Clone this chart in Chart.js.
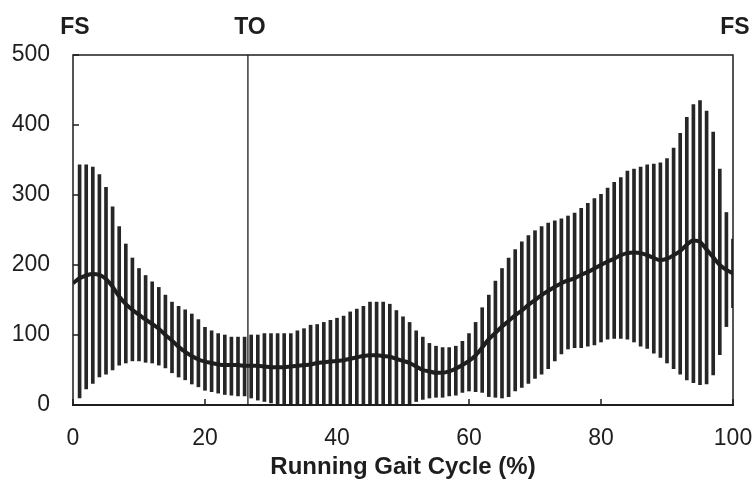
<!DOCTYPE html>
<html>
<head>
<meta charset="utf-8">
<script src="https://cdn.jsdelivr.net/npm/chart.js@4/dist/chart.umd.min.js"></script>
<style>
  html, body { margin: 0; padding: 0; background: #fff; }
  #wrap { width: 753px; height: 481px; position: relative; }
</style>
</head>
<body>
<div id="wrap"><canvas id="c"></canvas></div>
<script>
// Gait cycle percentages 0..100
const cyclePct = Array.from({length: 101}, (_, i) => i);

// Mean curve
const meanValues = [
  174,181,185,187,186,180,169,155,144,136,
  129,122,116,109,100, 92, 83, 76, 70, 65,
   62, 60, 58, 57, 57, 57, 56, 56, 56, 55,
   54, 54, 54, 55, 56, 57, 58, 60, 61, 62,
   63, 64, 66, 68, 70, 71, 71, 70, 69, 66,
   63, 60, 55, 50, 48, 46, 46, 48, 52, 57,
   63, 71, 82, 94,103,112,120,128,135,143,
  150,157,163,169,174,178,181,186,190,195,
  200,205,209,214,217,218,217,214,210,207,
  209,214,220,229,235,233,222,211,200,193,
  188
];

// Upper end of each error bar
const upperValues = [
  null,343,343,340,329,311,283,255,230,210,
  195,185,176,168,157,147,141,136,130,122,
  111,106,102,100, 97, 97, 97,100,100,102,
  102,102,102,102,106,109,114,115,118,121,
  124,127,133,137,141,147,147,147,144,135,
  126,118,106, 97, 88, 84, 82, 82, 84, 91,
  102,118,139,157,177,195,210,222,233,242,
  249,255,260,263,266,270,274,281,288,295,
  301,310,318,325,334,337,340,343,344,346,
  352,367,388,411,429,435,420,390,337,275,
  237
];

// Lower end of each error bar (0 where clipped by the axis)
const lowerValues = [
  null, 10, 23, 31, 40, 44, 50, 57, 60, 63,
   63, 61, 60, 57, 53, 46, 40, 36, 30, 26,
   21, 19, 17, 15, 14, 13, 13, 10,  7,  5,
    3,  0,  0,  0,  0,  0,  0,  0,  0,  0,
    0,  0,  0,  0,  0,  0,  0,  0,  0,  0,
    0,  0,  5,  8, 10, 11, 11, 13, 14, 18,
   20, 19, 18, 12, 11, 10, 12, 20, 25, 31,
   38, 44, 52, 63, 73, 80, 82, 82, 84, 86,
   90, 94, 95, 95, 94, 90, 84, 81, 74, 68,
   60, 52, 44, 36, 32, 29, 30, 43, 72,112,
  139
];

const xTicks = [0, 20, 40, 60, 80, 100];
const yTicks = [0, 100, 200, 300, 400, 500];
const eventMarks = [
  { label: 'FS', x: 0 },
  { label: 'TO', x: 26.5 },
  { label: 'FS', x: 100 }
];
const toLineAt = 26.5;
const xTitle = 'Running Gait Cycle (%)';

const INK = '#1e1e1e';
const FONT = '"Liberation Sans", Arial, sans-serif';

const barData = [];
cyclePct.forEach((p, i) => {
  if (upperValues[i] !== null && lowerValues[i] !== null) {
    barData.push({ x: p, y: [lowerValues[i], upperValues[i]] });
  }
});
const lineData = cyclePct.map((p, i) => ({ x: p, y: meanValues[i] }));

const decor = {
  id: 'decor',
  beforeDatasetsDraw(chart) {
    const { ctx, chartArea: a, scales: { x } } = chart;
    const px = x.getPixelForValue(toLineAt);
    ctx.save();
    ctx.strokeStyle = '#3a3a3a';
    ctx.lineWidth = 1.5;
    ctx.beginPath();
    ctx.moveTo(px, a.top);
    ctx.lineTo(px, a.bottom);
    ctx.stroke();
    ctx.restore();
  },
  afterDatasetsDraw(chart) {
    const { ctx, chartArea: a, scales: { x, y } } = chart;
    ctx.save();
    ctx.strokeStyle = INK;
    ctx.lineWidth = 1.5;
    ctx.strokeRect(a.left, a.top, a.right - a.left, a.bottom - a.top);
    ctx.lineWidth = 2;
    ctx.beginPath();
    ctx.moveTo(a.left - 1, a.bottom);
    ctx.lineTo(a.right + 1, a.bottom);
    ctx.stroke();
    // inward ticks
    ctx.lineWidth = 1.5;
    ctx.beginPath();
    xTicks.forEach(v => {
      const px = x.getPixelForValue(v);
      ctx.moveTo(px, a.bottom);
      ctx.lineTo(px, a.bottom - 6);
    });
    yTicks.forEach(v => {
      const py = y.getPixelForValue(v);
      ctx.moveTo(a.left, py);
      ctx.lineTo(a.left + 6, py);
    });
    ctx.stroke();
    // event labels
    ctx.fillStyle = INK;
    ctx.font = 'bold 23px ' + FONT;
    ctx.textAlign = 'center';
    ctx.textBaseline = 'middle';
    eventMarks.forEach(m => {
      ctx.fillText(m.label, x.getPixelForValue(m.x) + 2, 28);
    });
    ctx.restore();
  }
};

new Chart(document.getElementById('c'), {
  type: 'bar',
  data: {
    datasets: [
      {
        type: 'line',
        data: lineData,
        borderColor: INK,
        borderWidth: 4,
        pointRadius: 0,
        tension: 0.4,
        cubicInterpolationMode: 'monotone',
        fill: false,
        order: 0
      },
      {
        type: 'bar',
        data: barData,
        backgroundColor: '#262626',
        borderWidth: 0,
        barThickness: 3,
        clip: 0,
        order: 1
      }
    ]
  },
  options: {
    responsive: true,
    maintainAspectRatio: false,
    animation: false,
    devicePixelRatio: 1,
    layout: { padding: { top: 55, right: 20, left: 0, bottom: 0 } },
    plugins: { legend: { display: false }, tooltip: { enabled: false } },
    scales: {
      x: {
        type: 'linear',
        min: 0, max: 100,
        offset: false,
        afterFit(s) { s.height = 76; s.paddingLeft = 0; s.paddingRight = 0; },
        afterBuildTicks(s) { s.ticks = xTicks.map(v => ({ value: v })); },
        grid: { display: false, drawTicks: false, offset: false },
        border: { display: false },
        ticks: { color: INK, padding: 20, font: { family: FONT, size: 23 }, maxRotation: 0, autoSkip: false },
        title: { display: true, text: xTitle, color: INK, padding: { top: 0, bottom: 2 }, font: { family: FONT, size: 24, weight: 'bold', lineHeight: 1.0 } }
      },
      y: {
        min: 0, max: 500,
        afterFit(s) { s.width = 73; s.paddingTop = 0; s.paddingBottom = 0; },
        afterBuildTicks(s) { s.ticks = yTicks.map(v => ({ value: v })); },
        grid: { display: false, drawTicks: false },
        border: { display: false },
        ticks: { color: INK, padding: 23, font: { family: FONT, size: 23 } }
      }
    }
  },
  plugins: [decor]
});
</script>
</body>
</html>
